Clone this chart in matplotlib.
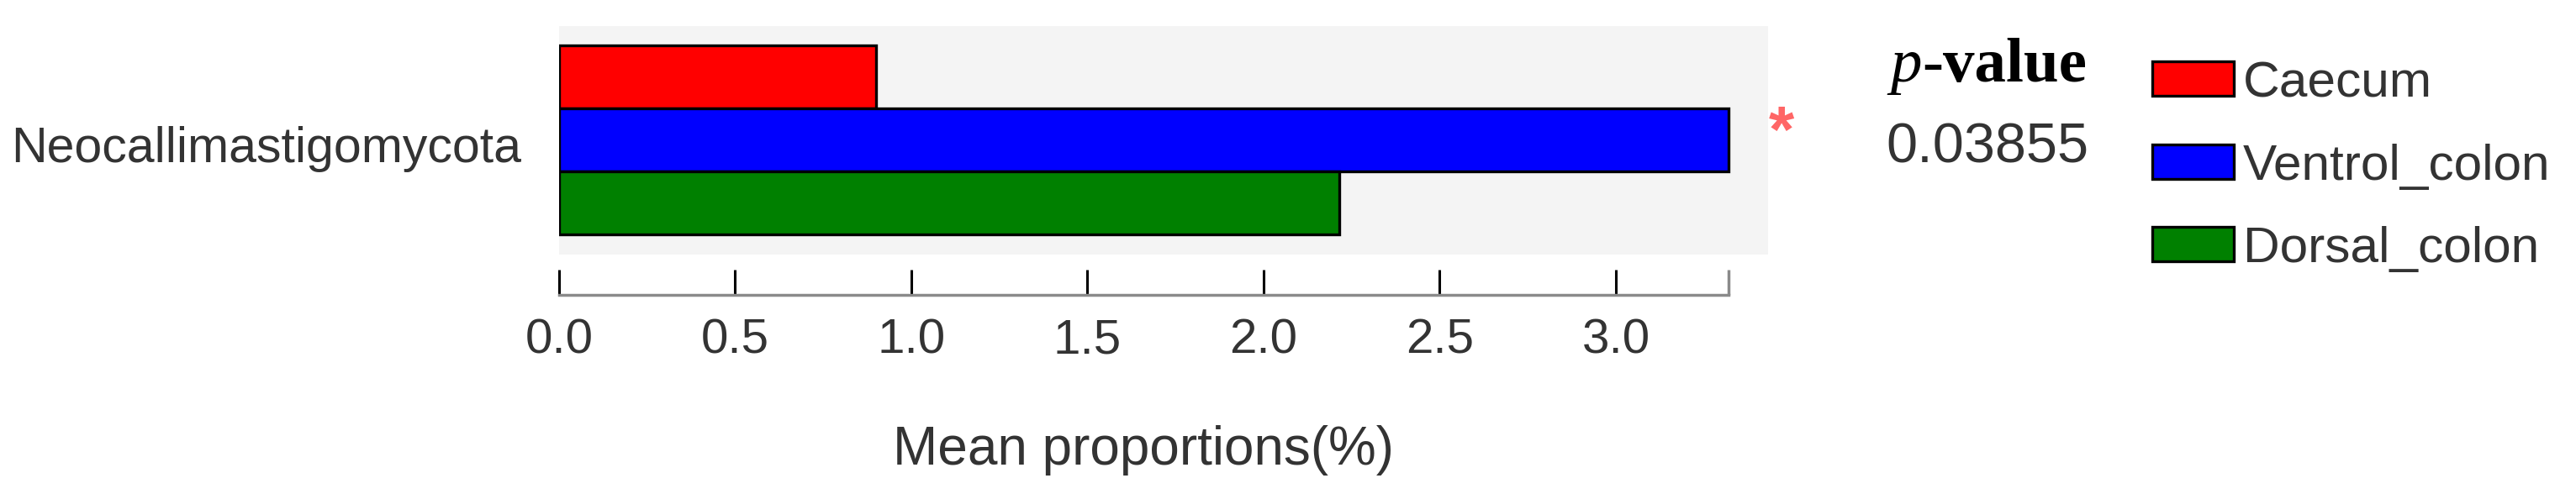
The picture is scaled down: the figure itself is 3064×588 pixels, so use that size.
import matplotlib
matplotlib.use("Agg")
import matplotlib.pyplot as plt
from matplotlib.patches import Patch
from matplotlib.transforms import ScaledTranslation

plt.rcParams['font.family'] = ['Liberation Sans', 'DejaVu Sans']

# data
taxa = ["Neocallimastigomycota"]
groups = ["Caecum", "Ventrol_colon", "Dorsal_colon"]
colors = ["#ff0000", "#0000ff", "#008000"]
means = [0.90, 3.32, 2.215]
p_values = ["0.03855"]
xticks = [0.0, 0.5, 1.0, 1.5, 2.0, 2.5, 3.0]

W, H = 3064, 588
fig = plt.figure(figsize=(W / 100, H / 100), dpi=100)
ax = fig.add_axes([665 / W, 1 - 303 / H, (2103 - 665) / W, (303 - 31) / H])
ax.set_facecolor('#f4f4f4')

ypos = [len(groups) - 1 - i for i in range(len(groups))]
ax.barh(ypos, means, height=1.0, color=colors, edgecolor='black', linewidth=2.4)
ax.set_xlim(0, 3.432)
ax.set_ylim(-0.82, 2.81)

for s in ['top', 'right', 'left']:
    ax.spines[s].set_visible(False)
ax.spines['bottom'].set_position(('outward', 34.6))
ax.spines['bottom'].set_bounds(0, max(means))
ax.spines['bottom'].set_color('#8a8a8a')
ax.spines['bottom'].set_linewidth(2.5)

ax.set_xticks(xticks)
ax.set_xticklabels([f"{t:.1f}" for t in xticks])
ax.tick_params(axis='x', direction='in', length=21.6, width=2.2, color='black',
               pad=19.5, labelsize=42, labelcolor='#333333')
ax.xaxis.get_major_ticks()[0].tick1line.set_color('#8a8a8a')
ax.set_xticks([max(means)], minor=True)
ax.tick_params(axis='x', which='minor', direction='in', length=21.6, width=2.5,
               color='#8a8a8a')

ax.set_yticks([1])
ax.set_yticklabels(taxa)
ax.tick_params(axis='y', length=0, pad=32, labelsize=42.5, labelcolor='#333333')
for lab in ax.get_yticklabels():
    lab.set_transform(lab.get_transform() + ScaledTranslation(0, -0.05, fig.dpi_scale_trans))

ax.set_xlabel('Mean proportions(%)', fontsize=46, color='#333333')
ax.xaxis.set_label_coords(0.483, -0.919)
ax.xaxis.label.set_va('baseline')

# significance star
ax.annotate('*', xy=(1.011, 1), xycoords=ax.get_yaxis_transform(),
            xytext=(0, -10), textcoords='offset points', ha='center', va='baseline',
            fontsize=56, fontweight='bold', color='#ff6666', annotation_clip=False)

# p-value column
t = fig.text(2482 / W, 1 - 97 / H, '-value', ha='right', va='baseline',
             family='Liberation Serif', fontweight='bold', fontsize=54, color='black')
fig.text(2485 / W, 1 - 193 / H, p_values[0], ha='right', va='baseline',
         fontsize=48, color='#333333')
fig.canvas.draw()
bb = t.get_window_extent()
fig.text(bb.x0 / W, 1 - 97 / H, 'p', ha='right', va='baseline',
         family='Liberation Serif', style='italic', fontsize=54, color='black')

handles = [Patch(facecolor=c, edgecolor='black', linewidth=2.4) for c in colors]
fig.legend(handles, groups, loc='upper left', bbox_to_anchor=(2560 / W, 1 - 72 / H),
           frameon=False, fontsize=43.5, handlelength=1.6, handleheight=0.67,
           handletextpad=0.18, labelspacing=0.72, borderpad=0, borderaxespad=0,
           labelcolor='#333333')

fig.savefig('out.png', dpi=100)
